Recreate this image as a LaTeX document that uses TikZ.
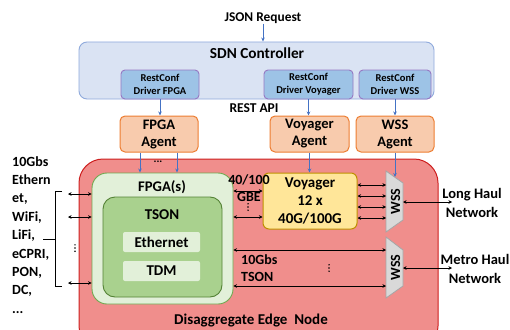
\documentclass[tikz,border=0pt]{standalone}
\usepackage{fontspec}
\setmainfont{Carlito}
\usetikzlibrary{arrows.meta,positioning}
\definecolor{sdnblue}{RGB}{218,227,243}
\definecolor{sdnline}{RGB}{143,170,220}
\definecolor{drvblue}{RGB}{157,195,230}
\definecolor{drvline}{RGB}{150,120,195}
\definecolor{agfill}{RGB}{248,203,173}
\definecolor{agline}{RGB}{237,125,49}
\definecolor{edgefill}{RGB}{240,142,140}
\definecolor{edgeline}{RGB}{205,30,30}
\definecolor{fpgafill}{RGB}{226,240,217}
\definecolor{fpgaline}{RGB}{112,168,80}
\definecolor{tsonfill}{RGB}{169,209,142}
\definecolor{tsonline}{RGB}{84,130,53}
\definecolor{voyfill}{RGB}{255,230,153}
\definecolor{voyline}{RGB}{191,144,0}
\definecolor{wssfill}{RGB}{217,217,217}
\definecolor{wssline}{RGB}{166,166,166}
\definecolor{ctrlline}{RGB}{68,114,196}
\tikzset{
  sdnbox/.style={draw=sdnline, fill=sdnblue, rounded corners=8pt, line width=0.9pt, minimum width=355pt, minimum height=57pt},
  drvbox/.style={draw=drvline, fill=drvblue, rounded corners=4pt, line width=0.9pt, minimum height=29pt, inner sep=0pt, align=center, font=\fontsize{10.5}{13}\selectfont\bfseries},
  agentbox/.style={draw=agline, fill=agfill, rounded corners=5pt, line width=1pt, minimum width=78pt, minimum height=36pt, inner sep=0pt, align=center, font=\fontsize{14.5}{17}\selectfont\bfseries},
  edgebox/.style={draw=edgeline, fill=edgefill, rounded corners=24pt, line width=1pt},
  fpgabox/.style={draw=fpgaline, fill=fpgafill, rounded corners=15pt, line width=0.9pt, minimum width=141pt, minimum height=131pt},
  tsonbox/.style={draw=tsonline, fill=tsonfill, rounded corners=12pt, line width=0.9pt, minimum width=119pt, minimum height=100pt},
  protobox/.style={fill=fpgafill, rounded corners=2pt, minimum width=77pt, minimum height=20pt, inner sep=0pt, font=\fontsize{15}{16}\selectfont\bfseries},
  voybox/.style={draw=voyline, fill=voyfill, rounded corners=6pt, line width=1pt, minimum width=94pt, minimum height=56pt, inner sep=0pt, align=center, font=\fontsize{15}{18}\selectfont\bfseries},
  wssbox/.style={draw=wssline, fill=wssfill, line width=0.8pt},
  figtext/.style={font=\fontsize{14}{18.4}\selectfont\bfseries, inner sep=0pt},
  dotmark/.style={fill=black},
  ctrlarrow/.style={-{Stealth[length=4pt,width=3.5pt]}, draw=ctrlline, line width=0.8pt},
  datalink/.style={{Stealth[length=3.5pt,width=3.5pt]}-{Stealth[length=3.5pt,width=3.5pt]}, draw=black, line width=0.7pt}
}
\begin{document}
\begin{tikzpicture}[x=1pt,y=-1pt]
  \path[use as bounding box] (0,0) rectangle (510,329);
  \clip (0,0) rectangle (510,329);

  % controller
  \node[figtext, font=\fontsize{13.4}{15}\selectfont\bfseries] (json) at (263,18) {JSON Request};
  \node[sdnbox] (sdn) at (256.5,70.5) {};
  \node[figtext, font=\fontsize{15.3}{17}\selectfont\bfseries] (sdntitle) at (257,53) {SDN Controller};
  \node[drvbox, minimum width=78pt] (drvfpga) at (160,84.5) {RestConf\\Driver FPGA};
  \node[drvbox, minimum width=89pt] (drvvoy) at (308.5,84.5) {RestConf\\Driver Voyager};
  \node[drvbox, minimum width=72pt] (drvwss) at (395,84.5) {RestConf\\Driver WSS};
  \node[figtext, font=\fontsize{13.5}{15}\selectfont\bfseries] (restapi) at (254,108) {REST API};
  \draw[ctrlarrow] (json.south) -- (json.south |- sdn.north);

  % agents
  \node[agentbox] (agfpga) at (159,134) {FPGA\\Agent};
  \node[agentbox, minimum width=79pt] (agvoy) at (309.5,134) {Voyager\\Agent};
  \node[agentbox] (agwss) at (395,134) {WSS\\Agent};
  \draw[ctrlarrow] (drvfpga.south) -- (drvfpga.south |- agfpga.north);
  \draw[ctrlarrow] (drvvoy.south) -- (drvvoy.south |- agvoy.north);
  \draw[ctrlarrow] (drvwss.south) -- (drvwss.south |- agwss.north);

  % edge node
  \draw[edgebox] (79,159) rectangle (438,350);
  \node[figtext, font=\fontsize{15}{17}\selectfont\bfseries] (edgetitle) at (251,321) {Disaggregate Edge\ \ Node};
  \node[fpgabox] (fpga) at (162.5,238.5) {};
  \node[figtext, font=\fontsize{14.7}{16}\selectfont\bfseries] (fpgatitle) at (162,187) {FPGA(s)};
  \node[tsonbox] (tson) at (162.5,247) {};
  \node[figtext, font=\fontsize{15}{17}\selectfont\bfseries] (tsontitle) at (162,215) {TSON};
  \node[protobox] (eth) at (161.5,242) {Ethernet};
  \node[protobox] (tdm) at (161.5,271) {TDM};
  \node[voybox] (voyager) at (310,201) {Voyager\\12 x\\40G/100G};

  % wss
  \draw[wssbox] (386,171) -- (403,183) -- (403,220) -- (386,232) -- cycle;
  \draw[wssbox] (386,237) -- (403,250) -- (403,286) -- (386,298) -- cycle;
  \node[figtext, font=\fontsize{14}{16}\selectfont\bfseries, rotate=90] (wssA) at (395.5,201.5) {WSS};
  \node[figtext, font=\fontsize{14}{16}\selectfont\bfseries, rotate=90] (wssB) at (395.5,267.5) {WSS};
  \coordinate (wssAw) at (386,201.5);
  \coordinate (wssAe) at (403,202);
  \coordinate (wssAtop) at (395,177);
  \coordinate (wssBw) at (386,267.5);
  \coordinate (wssBe) at (403,268);

  % control arrows into the node
  \draw[ctrlarrow] ([xshift=-19pt]agfpga.south) -- ([xshift=-19pt]agfpga.south |- fpga.north);
  \draw[ctrlarrow] ([xshift=18pt]agfpga.south) -- ([xshift=18pt]agfpga.south |- fpga.north);
  \node[figtext, font=\fontsize{11}{11}\selectfont\bfseries] (agdots) at (158,162) {...};
  \draw[ctrlarrow] (agvoy.south) -- (agvoy.south |- voyager.north);
  \draw[ctrlarrow] (agwss.south) -- (wssAtop);

  % access side
  \node[figtext, anchor=north west, align=left] (access) at (12,156) {10Gbs\\Ethern\\et,\\WiFi,\\LiFi,\\eCPRI,\\PON,\\DC,\\...};
  \draw[line width=0.8pt] (62,191) -| (55,286) -- (62,286);
  \draw[line width=0.8pt] (55,239) -- (43,239);
  \coordinate (accin) at (68,0);
  \foreach \y in {194,217,283} {
    \draw[datalink] (accin |- 0,\y) -- (fpga.west |- 0,\y);
  }
  \foreach \d in {-3.2,0,3.2} {
    \fill[dotmark] (75,248+\d) circle (0.8pt);
  }

  % 40/100 GbE
  \node[figtext, font=\fontsize{14}{17}\selectfont\bfseries, align=center] (gbe) at (249,188) {40/100\\GBE};
  \foreach \y in {191,217} {
    \draw[datalink] (fpga.east |- 0,\y) -- (voyager.west |- 0,\y);
  }
  \foreach \d in {-3.2,0,3.2} {
    \fill[dotmark] (248,207+\d) circle (0.8pt);
  }
  \foreach \y in {185,196,207,218} {
    \draw[datalink] (voyager.east |- 0,\y) -- (wssAw |- 0,\y);
  }

  % 10Gbs TSON
  \node[figtext, font=\fontsize{14}{17}\selectfont\bfseries, anchor=west, align=left] (tsonlink) at (241,268.5) {10Gbs\\TSON};
  \foreach \y in {250,286} {
    \draw[datalink] (fpga.east |- 0,\y) -- (wssBw |- 0,\y);
  }
  \foreach \d in {-3.2,0,3.2} {
    \fill[dotmark] (329,268+\d) circle (0.8pt);
  }

  % networks
  \coordinate (lhend) at (452,202);
  \coordinate (mhend) at (452,268);
  \draw[datalink] (wssAe) -- (lhend);
  \draw[datalink] (wssBe) -- (mhend);
  \node[figtext, font=\fontsize{14.5}{19}\selectfont\bfseries, align=center] (longhaul) at (472,202.5) {Long Haul\\Network};
  \node[figtext, font=\fontsize{14.5}{19}\selectfont\bfseries, align=center] (metrohaul) at (475,269) {Metro Haul\\Network};
\end{tikzpicture}
\end{document}
